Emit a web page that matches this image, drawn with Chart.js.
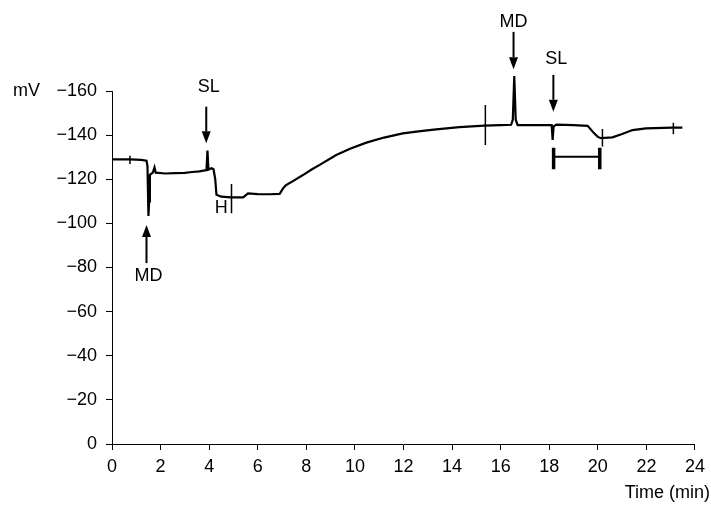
<!DOCTYPE html>
<html>
<head>
<meta charset="utf-8">
<script src="https://cdn.jsdelivr.net/npm/chart.js@4.4.0/dist/chart.umd.min.js"></script>
<style>
  html, body { margin:0; padding:0; background:#fff; }
  #wrap { width:711px; height:507px; }
</style>
</head>
<body>
<div id="wrap"><canvas id="chart" width="711" height="507"></canvas></div>
<script>
// trace: time (min) / potential (mV)
const traceTime = [0, 0.5, 0.74, 1.2, 1.42, 1.46, 1.5, 1.53, 1.56, 1.68, 1.75, 1.8, 2.2, 2.6, 3.0, 3.3, 3.6, 3.89, 3.93, 3.97,
  4.1, 4.18, 4.25, 4.3, 4.5, 4.9, 5.4, 5.6, 6.0, 6.5, 6.9, 7.05, 7.15, 7.5, 7.86, 8.2, 8.55, 9.23, 9.8, 10.47,
  11.2, 11.97, 12.7, 13.35, 14.3, 15.33, 16.0, 16.43, 16.5, 16.56, 16.62, 16.7, 17.5, 18.1, 18.14, 18.18, 18.3,
  19.0, 19.58, 19.85, 20.0, 20.13, 20.6, 21.0, 21.43, 21.98, 23.07, 23.48];
const traceMv = [-129, -129, -129, -128.8, -128.4, -126, -103.4, -110, -122, -123, -125.4, -123, -122.6, -122.8, -122.9, -123.3, -123.6, -124.2, -133, -124.4,
  -125, -124.5, -120, -113, -112.1, -111.8, -111.8, -113.6, -113.3, -113.2, -113.4, -116, -117.2, -119.5, -121.9, -124.3, -126.5, -131, -133.8, -136.6,
  -138.9, -140.8, -141.8, -142.6, -143.6, -144.3, -144.5, -144.7, -147, -166.8, -147, -144.5, -144.5, -144.5, -137.8, -144, -144.8,
  -144.5, -144.2, -140.8, -139.2, -138.6, -139, -140.5, -142.3, -143.1, -143.4, -143.4];

// vertical cross marks on the trace
const markTime = [0.74, 4.92, 15.37, 20.19, 23.11];
const markTop = [-130.7, -117.9, -153.7, -142.8, -145.6];
const markBottom = [-126.9, -104.6, -135.5, -134.8, -140.4];

// SL duration bar
const barStart = 18.18, barEnd = 20.08, barMv = -130.2;
const barCapTop = -134.3, barCapBottom = -124.5;

// event labels with arrows (arrow from -> to, in mV)
const eventText = ["MD", "SL", "H", "MD", "SL"];
const eventTime = [1.5, 3.98, 4.5, 16.53, 18.29];
const eventMv = [-76.2, -161.9, -107, -191.3, -174.5];
const arrowTime = [1.42, 3.88, null, 16.53, 18.17];
const arrowFrom = [-82, -152.9, null, -186.8, -167.3];
const arrowTo = [-99.3, -136.3, null, -169.9, -150.6];

const xTicks = [0, 2, 4, 6, 8, 10, 12, 14, 16, 18, 20, 22, 24];
const yTicks = [0, -20, -40, -60, -80, -100, -120, -140, -160];

const FONT = "'Liberation Sans', Arial, Helvetica, sans-serif";

function pts(xs, ys){ return xs.map((x,i)=>({x, y: ys[i]})); }

const datasets = [
  { data: pts(traceTime, traceMv), borderColor:"#000", borderWidth:2.2, pointRadius:0, tension:0, clip:false },
];
markTime.forEach((t,i)=>{
  datasets.push({ data:[{x:t,y:markTop[i]},{x:t,y:markBottom[i]}], borderColor:"#000", borderWidth:1.5, pointRadius:0, clip:false });
});
datasets.push({ data:[{x:barStart,y:barMv},{x:barEnd,y:barMv}], borderColor:"#000", borderWidth:2, pointRadius:0 });
datasets.push({ data:[{x:barStart,y:barCapTop},{x:barStart,y:barCapBottom}], borderColor:"#000", borderWidth:3.5, pointRadius:0 });
datasets.push({ data:[{x:barEnd,y:barCapTop},{x:barEnd,y:barCapBottom}], borderColor:"#000", borderWidth:3.5, pointRadius:0 });

const annotate = {
  id: "annotate",
  afterDraw(chart){
    const ctx = chart.ctx, xs = chart.scales.x, ys = chart.scales.y, area = chart.chartArea;
    ctx.save();
    ctx.fillStyle = "#000";
    ctx.strokeStyle = "#000";
    ctx.font = "18px " + FONT;
    ctx.textAlign = "center";
    ctx.textBaseline = "middle";
    eventText.forEach((txt,i)=>{
      ctx.fillText(txt, xs.getPixelForValue(eventTime[i]), ys.getPixelForValue(eventMv[i]));
      if(arrowTime[i] == null) return;
      const x = xs.getPixelForValue(arrowTime[i]);
      const y1 = ys.getPixelForValue(arrowFrom[i]);
      const y2 = ys.getPixelForValue(arrowTo[i]);
      const dir = Math.sign(y2 - y1);
      const head = 12;
      ctx.lineWidth = 2;
      ctx.beginPath();
      ctx.moveTo(x, y1);
      ctx.lineTo(x, y2 - dir*head);
      ctx.stroke();
      ctx.beginPath();
      ctx.moveTo(x, y2);
      ctx.lineTo(x - 4.5, y2 - dir*head);
      ctx.lineTo(x + 4.5, y2 - dir*head);
      ctx.closePath();
      ctx.fill();
    });
    // axis captions
    ctx.textAlign = "left";
    ctx.fillText("mV", 13, area.top);
    ctx.textAlign = "right";
    ctx.fillText("Time (min)", 710, 493);
    ctx.restore();
  }
};

new Chart(document.getElementById("chart").getContext("2d"), {
  type: "line",
  data: { datasets },
  plugins: [annotate],
  options: {
    responsive: false,
    animation: false,
    events: [],
    layout: { padding: { left: 0, top: 91, right: 15, bottom: 0 } },
    plugins: { legend: { display:false }, tooltip: { enabled:false } },
    scales: {
      x: {
        type: "linear", min: 0, max: 24,
        afterBuildTicks: s => { s.ticks = xTicks.map(v=>({value:v})); },
        afterFit: s => { s.height = 63; },
        ticks: { color:"#000", font:{ size:18, family:FONT }, padding:6, maxRotation:0, autoSkip:false },
        grid: { drawOnChartArea:false, tickLength:6, color:"#000", lineWidth:1 },
        border: { color:"#000", width:1 }
      },
      y: {
        type: "linear", min: -160, max: 0, reverse: true,
        afterBuildTicks: s => { s.ticks = yTicks.map(v=>({value:v})); },
        afterFit: s => { s.width = 112; },
        ticks: { color:"#000", font:{ size:18, family:FONT }, padding:9,
          callback: v => v === 0 ? "0" : "\u2212" + Math.abs(v) },
        grid: { drawOnChartArea:false, tickLength:6, color:"#000", lineWidth:1 },
        border: { color:"#000", width:1 }
      }
    }
  }
});
</script>
</body>
</html>
